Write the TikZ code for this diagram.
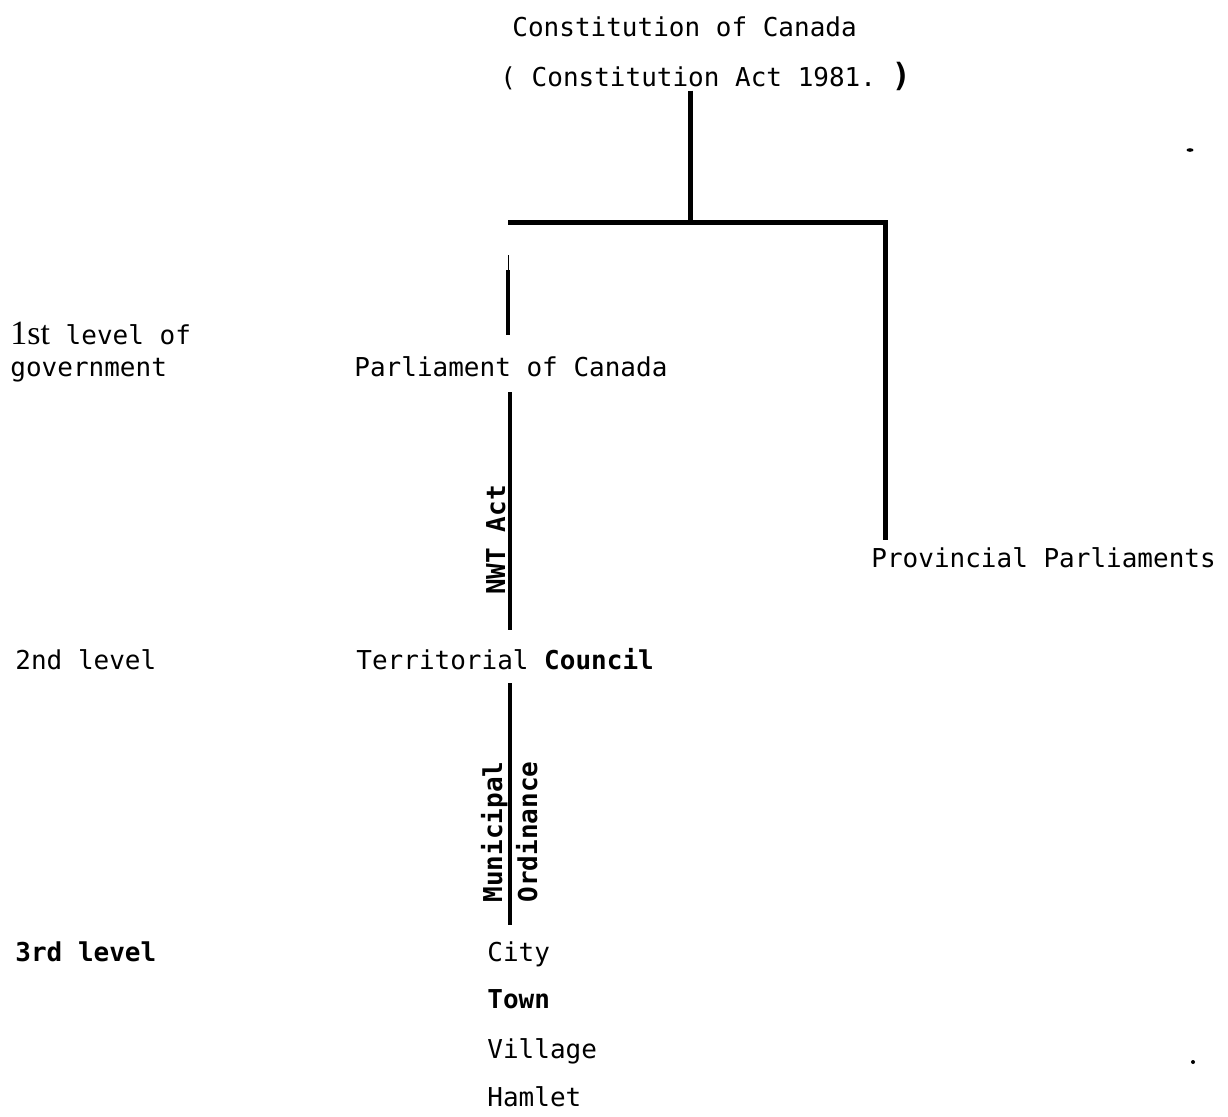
\documentclass[tikz,border=0pt]{standalone}
\usepackage{fontspec}
\setmonofont{DejaVu Sans Mono}
\newfontfamily\serifone{Liberation Serif}
\begin{document}
\begin{tikzpicture}[x=0.5pt,y=-0.5pt,
  lbl/.style={font=\ttfamily\fontsize{13}{15}\selectfont, inner sep=0pt, anchor=base west},
  boldlbl/.style={lbl, font=\ttfamily\bfseries\fontsize{13}{15}\selectfont},
  vlbl/.style={font=\ttfamily\bfseries\fontsize{13}{15}\selectfont, inner sep=0pt, anchor=base, rotate=90},
  trunk/.style={line width=2.5pt},
  link/.style={line width=1.8pt},
  hair/.style={line width=0.5pt}]
\useasboundingbox (0,0) rectangle (1228,1116);

% title
\node[lbl] (const1) at (512,36) {Constitution of Canada};
\node[lbl] (const2) at (500,86) {( Constitution Act 1981.~{\bfseries\fontsize{16}{16}\selectfont)}};

% junctions
\coordinate (jt) at (690,222);
\coordinate (jl) at (508,222);
\coordinate (jr) at (885,222);

% nodes
\node[lbl] (parl) at (354,376) {Parliament of Canada};
\node[lbl] (prov) at (871,567) {Provincial Parliaments};
\node[lbl] (terr) at (356,669) {Territorial {\bfseries Council}};
\node[lbl] (city) at (487,961) {City};
\node[boldlbl] (town) at (487,1008) {Town};
\node[lbl] (vill) at (487,1058) {Village};
\node[lbl] (haml) at (487,1106) {Hamlet};

% level labels
\node[lbl] (lev1) at (10,344) {{\serifone\fontsize{17}{17}\selectfont 1st} level of};
\node[lbl] (lev1b) at (10,376) {government};
\node[lbl] (lev2) at (15,669) {2nd level};
\node[boldlbl] (lev3) at (15,961) {3rd level};

% tree connectors
\draw[trunk] (const2.south -| jt) -- (jt);
\draw[trunk] (jl) -- (jr) -- ([yshift=3.5pt]jr |- prov.north);

% Parliament of Canada drop
\coordinate (p0) at (508,255);
\coordinate (p1) at (508,270);
\coordinate (p2) at (508,335);
\draw[hair] (p0) -- (p1);
\draw[link] (p1) -- (p2);

% NWT Act link
\coordinate (n1) at (510,392);
\coordinate (n2) at (510,630);
\draw[link] (n1) -- (n2);
\node[vlbl] (nwt) at (505,540) {NWT Act};

% Municipal Ordinance link
\coordinate (m1) at (510,683);
\coordinate (m2) at (510,925);
\draw[link] (m1) -- (m2);
\node[vlbl] (mun) at (502,832) {Municipal};
\node[vlbl] (ord) at (537,832) {Ordinance};

% specks
\fill (1190,150) ellipse (3.5 and 1.8);
\fill (1193,1062) circle (2);
\end{tikzpicture}
\end{document}
